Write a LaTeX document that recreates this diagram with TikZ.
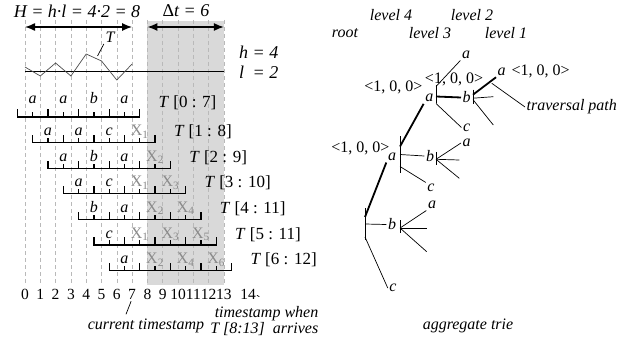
\documentclass[tikz,border=0pt]{standalone}
\usepackage{fontspec}
\setmainfont{Liberation Serif}
\usepackage{xcolor}
\usepackage{tikz}
\usetikzlibrary{arrows.meta}

\definecolor{xgray}{RGB}{138,138,138}
\definecolor{boxgray}{RGB}{217,217,217}
\newcommand{\xs}[1]{{\upshape\color{xgray}X\textsubscript{#1}}}

\begin{document}
\begin{tikzpicture}[x=1pt,y=-1pt,
    txt/.style={font=\fontsize{16}{19}\selectfont, inner sep=1.5pt},
    big/.style={font=\fontsize{18}{20}\selectfont\itshape, inner sep=0pt},
    lbl/.style={font=\fontsize{16}{19}\selectfont\itshape, inner sep=1.5pt},
    dashline/.style={gray!55, dash pattern=on 4pt off 3pt, line width=0.6pt},
    ruler/.style={line width=1.3pt, line cap=rect},
    dimarrow/.style={{Latex[length=10pt,width=8pt]}-{Latex[length=10pt,width=8pt]}, line width=1.4pt},
    trieline/.style={line width=0.7pt},
    trv/.style={line width=1.8pt}]

  \useasboundingbox (0,0) rectangle (631,342);

  % Finestra Delta t
  \fill[boxgray] (147.4,21) rectangle (223.9,285);

  % Griglia tratteggiata
  \foreach \i in {0,...,13}
    \draw[dashline] ({25+15.3*\i},20) -- ({25+15.3*\i},283);

  % Quote H e Delta t
  \node[big] (Hlab) at (77,11) {H = h·l = 4·2 = 8};
  \node[big] (dtlab) at (186,11) {{\upshape Δ}t = 6};
  \coordinate (h0) at (25,27);
  \coordinate (h7) at (132.1,27);
  \coordinate (d8) at (147.4,27);
  \coordinate (d13) at (223.9,27);
  \draw[dimarrow] (h0) -- (h7);
  \draw[dimarrow] (d8) -- (d13);

  % Serie temporale
  \draw[line width=0.9pt] (25,71) -- (223.9,71);
  \draw[line width=0.7pt, black!70] plot coordinates {(25,67) (40.3,76) (55.6,63)
    (70.9,76) (86.2,54) (101.5,61) (116.8,80) (132.1,64)};
  \node[lbl] (tlab) at (110,37) {T};
  \coordinate (tpt) at (97.5,56);
  \draw[trieline] (tlab.south west) -- (tpt);
  \node[big, anchor=west] (hl) at (239,64.5)
    {\begin{tabular}{@{}l@{ = }l@{}}h&4\\l&2\end{tabular}};

  % Finestre scorrevoli
  \foreach \k/\off/\loff/\lab/\syms in {
      0/13/9/{[0 : 7]}/{a,a,b,a},
      1/7/6/{[1 : 8]}/{a,a,c,\xs1},
      2/7/6/{[2 : 9]}/{a,b,a,\xs2},
      3/7/6/{[3 : 10]}/{a,c,\xs1,\xs3},
      4/7/6/{[4 : 11]}/{b,a,\xs2,\xs4},
      5/7/6/{[5 : 11]}/{c,\xs1,\xs3,\xs5},
      6/7/6/{[6 : 12]}/{a,\xs2,\xs4,\xs6}}{
    \draw[ruler] ({17.35+15.3*\k},{117+25.6*\k}) -- ++(122.4,0);
    \foreach \j in {0,2,4,6,8}
      \draw[ruler] ({17.35+15.3*(\k+\j)},{117+25.6*\k}) -- ++(0,-7);
    \foreach \j in {1,3,5,7}
      \draw[ruler] ({17.35+15.3*(\k+\j)},{117+25.6*\k}) -- ++(0,-4);
    \foreach \s [count=\m from 0] in \syms
      \node[lbl, anchor=base, inner sep=0pt] (s\k\m) at ({17.35+15.3*(\k+2*\m+1)},{117+25.6*\k-\off}) {\s};
    \node[txt, anchor=base west, font=\fontsize{17}{19}\selectfont] (row\k)
      at ({157+15.3*\k},{117+25.6*\k-\loff}) {\textit{T} \lab};
  }

  % Asse dei tempi
  \foreach \i in {0,...,13}
    \node[txt, font=\fontsize{15.5}{18}\selectfont, inner sep=0pt] (t\i) at ({25+15.3*\i},294) {\i};
  \node[txt, font=\fontsize{15.5}{18}\selectfont, inner sep=0pt] (t14) at (248,294) {14};

  \node[lbl] (curts) at (146,326) {current timestamp};
  \draw[trieline] ([xshift=-1pt,yshift=-2pt]t7.south) -- ([xshift=-20pt,yshift=3pt]curts.north);
  \node[lbl, align=right, anchor=east, font=\fontsize{16}{16}\selectfont\itshape] (arrv) at (320,321)
    {timestamp when\\T [8:13]~~arrives};
  \draw[trieline] ([xshift=1pt,yshift=4pt]t14.south east) -- ([xshift=-5pt,yshift=8pt]arrv.north);

  % Livelli del trie
  \node[lbl] (lv4) at (391,15) {level 4};
  \node[lbl] (lv2) at (472,15) {level 2};
  \node[lbl] (lvr) at (345,33) {root};
  \node[lbl] (lv3) at (430,33) {level 3};
  \node[lbl] (lv1) at (506,33) {level 1};

  % Contatori
  \node[txt, anchor=east] (c4) at (391,148) {<1, 0, 0>};
  \node[txt, anchor=east] (c3) at (424,87) {<1, 0, 0>};
  \node[txt] (c2) at (454,79) {<1, 0, 0>};
  \node[txt, anchor=west] (c1) at (510,71.5) {<1, 0, 0>};

  % Etichette del trie
  \node[lbl] (ra) at (392,157) {a};
  \node[lbl] (rb) at (392,224.5) {b};
  \node[lbl] (rc) at (393,288) {c};
  \node[lbl] (rba) at (432,205) {a};
  \node[lbl] (kab) at (429.3,98.3) {a};
  \node[lbl] (kbb) at (430,156) {b};
  \node[lbl] (kcc) at (431,188) {c};
  \node[lbl] (kba) at (466.7,143) {a};
  \node[lbl] (laa) at (466,55) {a};
  \node[lbl] (lbb) at (466.7,97.5) {b};
  \node[lbl] (lcc) at (466.7,127.5) {c};
  \node[lbl] (lba) at (501.7,71.7) {a};

  % Nodi (barre)
  \coordinate (root) at (365,224);
  \coordinate (rbb) at (400,226.5);
  \coordinate (ka) at (400,154.5);
  \coordinate (kb) at (436,158.3);
  \coordinate (la) at (436,94.5);
  \coordinate (lb) at (473,96.7);
  \draw[trieline] ([yshift=16pt]root) -- ([yshift=-16pt]root);
  \draw[trieline] ([yshift=6.5pt]rbb) -- ([yshift=-6.5pt]rbb);
  \draw[trieline] ([yshift=18.5pt]ka) -- ([yshift=-18.5pt]ka);
  \draw[trieline] ([yshift=6.5pt]kb) -- ([yshift=-6.5pt]kb);
  \draw[trieline] ([yshift=9pt]la) -- ([yshift=-9pt]la);
  \draw[trieline] ([yshift=7pt]lb) -- ([yshift=-7pt]lb);

  % Archi dalla radice
  \draw[trv] ([yshift=7pt]root) -- (ra.south west);
  \draw[trieline] (root) -- (rb.west);
  \draw[trieline] ([yshift=-13pt]root) -- (rc.west);

  % Figli di b (radice)
  \coordinate (rbh) at (426.7,228);
  \coordinate (rbd) at (426.7,251.7);
  \draw[trieline] ([yshift=-1.5pt]rbb) -- (rba.south west);
  \draw[trieline] ([yshift=-1.5pt]rbb) -- (rbh);
  \draw[trieline] ([yshift=-1.5pt]rbb) -- (rbd);

  % Figli di a (livello 4)
  \draw[trv] ([yshift=8pt]ka) -- (kab.south west);
  \draw[trieline] (ka) -- (kbb.west);
  \draw[trieline] ([yshift=-12pt]ka) -- (kcc.north west);

  % Figli di b (livello 3)
  \coordinate (kbh) at (459.3,160);
  \coordinate (kbd) at (459.3,178.3);
  \draw[trieline] ([yshift=-1pt]kb) -- (kba.west);
  \draw[trieline] ([yshift=-1pt]kb) -- (kbh);
  \draw[trieline] ([yshift=-1pt]kb) -- (kbd);

  % Figli di a (livello 3)
  \draw[trieline] ([yshift=8pt]la) -- (laa.south west);
  \draw[trv] ([yshift=-2pt]la) -- (lbb.west);
  \draw[trieline] ([yshift=-9pt]la) -- (lcc.west);

  % Figli di b (livello 2)
  \coordinate (lbh) at (493.3,96.7);
  \coordinate (lbd) at (493.3,125);
  \draw[trv] ([yshift=2pt]lb) -- (lba.south west);
  \draw[trieline] ([yshift=-1.5pt]lb) -- (lbh);
  \draw[trieline] ([yshift=-3pt]lb) -- (lbd);

  % Cammino di visita
  \node[lbl, anchor=west] (trvl) at (525,107) {traversal path};
  \draw[trieline] (trvl.west) -- ([xshift=-10pt,yshift=-6pt]lba.south);

  \node[lbl] (aggr) at (468,326) {aggregate trie};
\end{tikzpicture}
\end{document}
